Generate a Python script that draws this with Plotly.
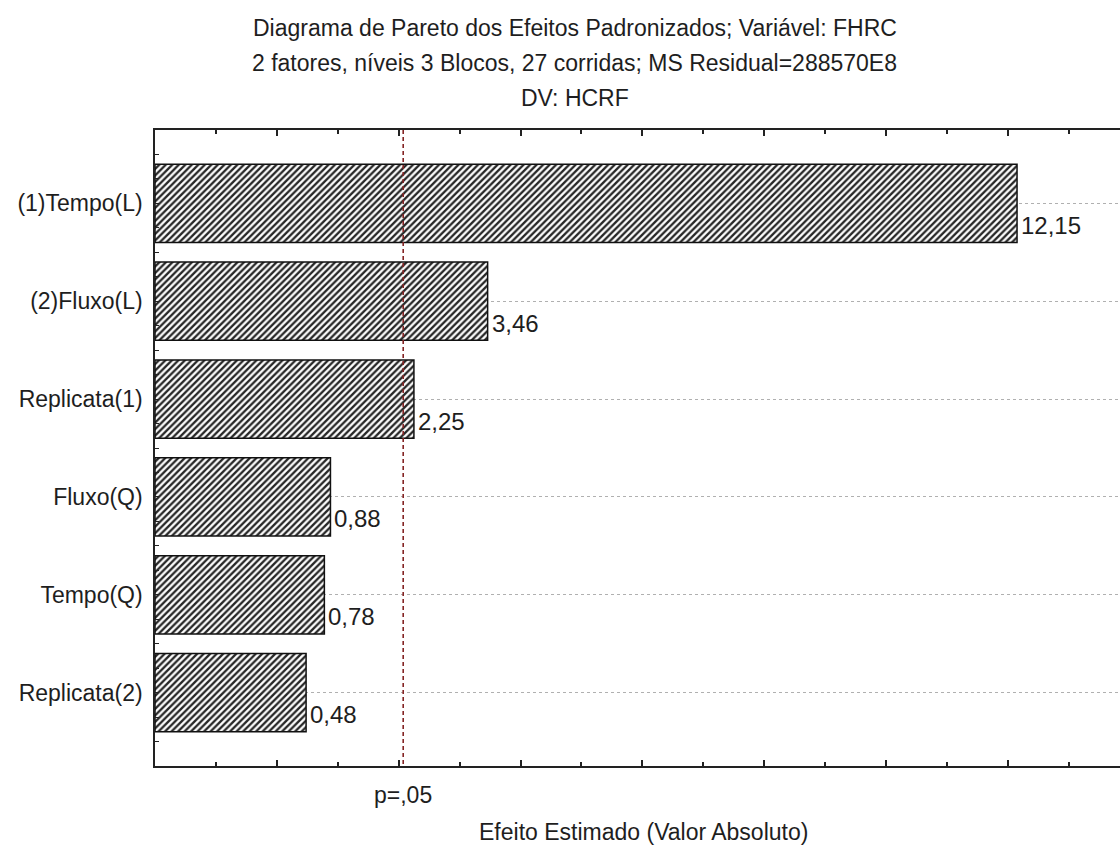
import plotly.graph_objects as go

# Standardized effects (absolute values), top to bottom
effects = ["(1)Tempo(L)", "(2)Fluxo(L)", "Replicata(1)", "Fluxo(Q)", "Tempo(Q)", "Replicata(2)"]
abs_effect = [12.15, 3.46, 2.25, 0.88, 0.78, 0.48]
p_crit = 2.074          # t critical value for p = .05
p_label = "p=,05"

title_lines = [
    "Diagrama de Pareto dos Efeitos Padronizados; Variável: FHRC",
    "2 fatores, níveis 3 Blocos, 27 corridas; MS Residual=288570E8",
    "DV: HCRF",
]
x_title = "Efeito Estimado (Valor Absoluto)"

FONT = "Liberation Sans, Arial, sans-serif"
INK = "#1e1e1e"

X_MIN, X_MAX = -2, 13.84   # bars grow from the left edge of the axis
pos = list(range(len(effects)))

fig = go.Figure()

fig.add_trace(go.Bar(
    base=[X_MIN] * len(abs_effect),
    x=[v - X_MIN for v in abs_effect],
    y=pos,
    orientation="h",
    width=0.8,
    marker=dict(
        color="white",
        line=dict(color="#111111", width=1.5),
        pattern=dict(shape="/", size=4.6, solidity=0.5,
                     fgcolor="#262626", bgcolor="white", fillmode="replace"),
    ),
    hoverinfo="skip",
    showlegend=False,
))

# significance threshold line
fig.add_trace(go.Scatter(
    x=[p_crit, p_crit],
    y=[-0.75, 5.75],
    mode="lines",
    line=dict(color="#842424", width=1.6, dash="4px,3px"),
    hoverinfo="skip",
    showlegend=False,
))

annotations = []
for i, v in enumerate(abs_effect):
    annotations.append(dict(
        x=v, y=i, xref="x", yref="y",
        text=f"{v:.2f}".replace(".", ","),
        showarrow=False, xanchor="left", yanchor="middle",
        xshift=2, yshift=-22,
        font=dict(family=FONT, size=24, color=INK),
    ))

for txt, yy in zip(title_lines, [1.1604, 1.1053, 1.0503]):
    annotations.append(dict(
        x=0.4352, y=yy, xref="paper", yref="paper", text=txt,
        showarrow=False, xanchor="center", yanchor="middle",
        font=dict(family=FONT, size=23, color=INK),
    ))

annotations.append(dict(
    x=0.5057, y=-0.1038, xref="paper", yref="paper", text=x_title,
    showarrow=False, xanchor="center", yanchor="middle",
    font=dict(family=FONT, size=23, color=INK),
))
annotations.append(dict(
    x=p_crit, y=-0.0456, xref="x", yref="paper", text=p_label,
    showarrow=False, xanchor="center", yanchor="middle",
    font=dict(family=FONT, size=23, color=INK),
))

fig.update_layout(
    width=1120, height=845,
    margin=dict(l=155, r=0, t=130, b=79),
    paper_bgcolor="white", plot_bgcolor="white",
    font=dict(family=FONT, size=23, color=INK),
    annotations=annotations,
    xaxis=dict(
        range=[X_MIN, X_MAX],
        showticklabels=False,
        showgrid=False, zeroline=False,
        showline=True, linecolor="#222222", linewidth=1.5, mirror="ticks",
        tickmode="linear", tick0=0, dtick=2,
        ticks="inside", ticklen=6, tickwidth=1.5, tickcolor="#222222",
        minor=dict(tickmode="linear", tick0=1, dtick=2, ticks="inside",
                   ticklen=4, tickwidth=1.5, tickcolor="#222222", showgrid=False),
    ),
    yaxis=dict(
        range=[5.75, -0.75],
        tickmode="array", tickvals=pos, ticktext=effects,
        showgrid=True, gridcolor="#b0b0b0", gridwidth=1, griddash="dot",
        zeroline=False,
        showline=True, linecolor="#222222", linewidth=1.5, mirror=False,
        ticks="inside", ticklen=4, tickwidth=1.2, tickcolor="#222222",
        ticklabelstandoff=6,
        tickfont=dict(family=FONT, size=23, color=INK),
        minor=dict(tickmode="linear", tick0=0, dtick=0.25, ticks="inside",
                   ticklen=4, tickwidth=1.2, tickcolor="#222222", showgrid=False),
    ),
)

fig.write_html("out.html")
